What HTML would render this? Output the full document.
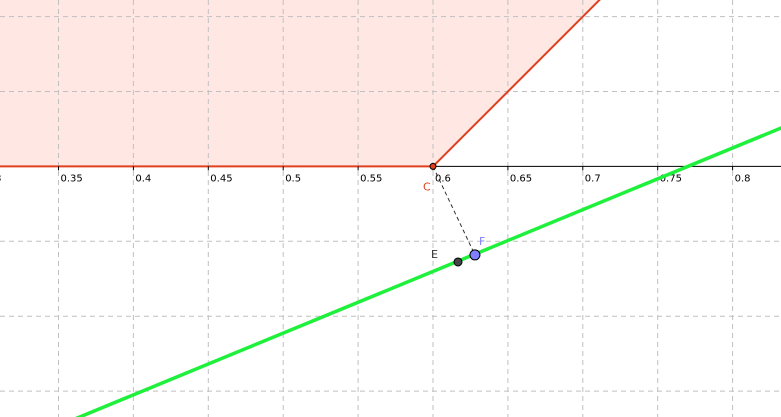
<!DOCTYPE html>
<html><head><meta charset="utf-8"><style>
html,body{margin:0;padding:0;background:#fff;width:781px;height:417px;overflow:hidden}
svg{display:block;font-family:"DejaVu Sans","Liberation Sans",sans-serif}
</style></head><body>
<svg id="chart" width="781" height="417" viewBox="0 0 781 417"></svg>
<script>
const xTicks=[0.3,0.35,0.4,0.45,0.5,0.55,0.6,0.65,0.7,0.75,0.8];
const xTickLabels=["0.3","0.35","0.4","0.45","0.5","0.55","0.6","0.65","0.7","0.75","0.8"];
const yGrid=[0.1,0.05,0,-0.05,-0.1,-0.15];
const pointC=[0.6,0];
const redRayEnd=[0.75,0.15];
const greenLine=[[0.3,-0.1937],[0.9,0.0535]];
const pointE=[0.6167,-0.0638];
const pointF=[0.628,-0.0591];
const S=1498;
function X(v){return 433+(v-0.6)*S;}
function Y(v){return 166.4-v*S;}
const svg=document.getElementById('chart');
const NS='http://www.w3.org/2000/svg';
function mk(tag,attrs,parent){const e=document.createElementNS(NS,tag);for(const k in attrs)e.setAttribute(k,attrs[k]);(parent||svg).appendChild(e);return e;}
// fill region
const slope=(redRayEnd[1]-pointC[1])/(redRayEnd[0]-pointC[0]);
const topX=pointC[0]+(Y.inv=(166.4-(-5))/S, (166.4/S+5/S - pointC[1])/slope);
const fill=mk('polygon',{points:`-5,${Y(0)} ${X(pointC[0])},${Y(pointC[1])} ${X(topX)},-5 -5,-5`,fill:'#ffe8e4',stroke:'none'});


// grid
xTicks.forEach((t,i)=>{
 const l=mk('line',{x1:X(t),x2:X(t),y1:0,y2:417,stroke:'#c0c0c0','stroke-dasharray':'5,4','stroke-width':1});
 
 
});
yGrid.forEach(t=>{
 if(t===0)return;
 const l=mk('line',{x1:0,x2:781,y1:Y(t),y2:Y(t),stroke:'#c0c0c0','stroke-dasharray':'5,4','stroke-width':1});
 
 
});
// red boundary on axis
const rb=mk('line',{x1:0,x2:X(pointC[0]),y1:Y(0),y2:Y(0),stroke:'#e0401e','stroke-width':2});


// x axis
const ax=mk('line',{x1:X(pointC[0]),x2:781,y1:Y(0),y2:Y(0),stroke:'#000','stroke-width':1});


xTicks.forEach((t,i)=>{
 const tk=mk('line',{x1:X(t),x2:X(t),y1:Y(0),y2:Y(0)+4,stroke:'#000'});
 
 
 const tx=mk('text',{x:X(t)+2,y:Y(0)+15,'font-size':10,fill:'#000'});
 tx.textContent=xTickLabels[i];
 
 
});
// red ray
const far=[pointC[0]+0.3,pointC[1]+0.3*slope];
const rr=mk('line',{x1:X(pointC[0]),y1:Y(pointC[1]),x2:X(far[0]),y2:Y(far[1]),stroke:'#e0401e','stroke-width':2});


// green line
const gl=mk('line',{x1:X(greenLine[0][0]),y1:Y(greenLine[0][1]),x2:X(greenLine[1][0]),y2:Y(greenLine[1][1]),stroke:'#1ef03c','stroke-width':3.5});


// dashed segment C-F
const ds=mk('line',{x1:X(pointC[0]),y1:Y(pointC[1]),x2:X(pointF[0]),y2:Y(pointF[1]),stroke:'#333','stroke-dasharray':'4,3','stroke-width':1});


// points
const c=mk('circle',{cx:X(pointC[0]),cy:Y(pointC[1]),r:3,fill:'#e0401e',stroke:'#000','stroke-width':1});


const ct=mk('text',{x:X(pointC[0])-10,y:Y(0)+24,'font-size':11,fill:'#e0401e'});ct.textContent='C';


const e=mk('circle',{cx:X(pointE[0]),cy:Y(pointE[1]),r:4,fill:'#444',stroke:'#000','stroke-width':1});


const et=mk('text',{x:X(pointE[0])-27,y:Y(pointE[1])-4,'font-size':11,fill:'#333'});et.textContent='E';


const f=mk('circle',{cx:X(pointF[0]),cy:Y(pointF[1]),r:5,fill:'#7f7fff',stroke:'#000','stroke-width':1});


const ft=mk('text',{x:X(pointF[0])+4,y:Y(pointF[1])-10,'font-size':11,fill:'#7f7fff'});ft.textContent='F';


</script>
</body></html>
